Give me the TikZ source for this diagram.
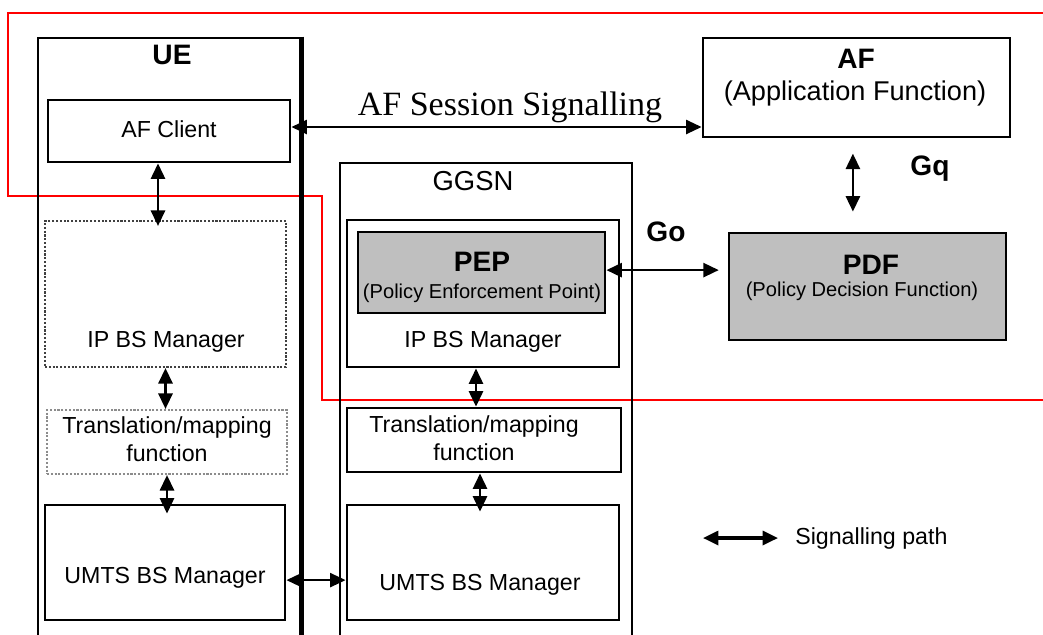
\documentclass[tikz,border=0pt]{standalone}
\usepackage{fontspec}
\setmainfont{Liberation Sans}
\newfontfamily\sigfont{Liberation Serif}
\usetikzlibrary{arrows.meta}

\begin{document}
\begin{tikzpicture}[x=0.025cm,y=-0.025cm,
  box/.style={draw,line width=2pt,inner sep=0pt},
  dotbox/.style={draw=black!75,line width=1.5pt,dash pattern=on 1.5pt off 1.2pt,inner sep=0pt},
  greybox/.style={box,fill=black!25},
  boxtext/.style={font=\fontsize{16.5}{20}\selectfont,align=center,inner sep=0pt},
  smalltext/.style={font=\fontsize{14.3}{17}\selectfont,inner sep=0pt},
  headtext/.style={font=\fontsize{20}{24}\selectfont\bfseries,inner sep=0pt},
  sigpath/.style={line width=1.8pt,{Triangle[length=11pt,width=10pt]}-{Triangle[length=11pt,width=10pt]}}]
\useasboundingbox (0,0) rectangle (1043,634);

% Red border
\draw[red,line width=1.8pt] (1043,13) -- (8,13) -- (8,196) -- (322,196) -- (322,400) -- (1043,400);

% UE
\node[box,minimum width=6.55cm,minimum height=15.3cm] (ue) at (169,344) {};
\draw[line width=3pt] (ue.north east) -- (ue.south east);
\node[headtext] (uelabel) at (172,55) {UE};
\node[box,minimum width=6.05cm,minimum height=1.55cm] (afclient) at (169,131) {};
\node[boxtext] (afclientlabel) at (169,129) {AF Client};
\node[dotbox,minimum width=6.025cm,minimum height=3.65cm] (ueip) at (165.5,294) {};
\node[boxtext] (ueiplabel) at (166,342) {IP BS Manager};
\node[dotbox,draw=black!45,minimum width=6cm,minimum height=1.6cm] (uetrans) at (167,442) {};
\node[boxtext] (uetranslabel) at (167,439) {Translation/mapping\\function};
\node[box,minimum width=6cm,minimum height=2.875cm] (ueumts) at (165,562.5) {};
\node[boxtext] (ueumtslabel) at (165,578) {UMTS BS Manager};

% GGSN
\node[box,minimum width=7.3cm,minimum height=12.175cm] (ggsn) at (486,406.5) {};
\node[font=\fontsize{19.5}{23}\selectfont,inner sep=0pt] (ggsnlabel) at (473,181) {GGSN};
\node[box,minimum width=6.8cm,minimum height=3.675cm] (ggip) at (483,293.5) {};
\node[boxtext] (ggiplabel) at (483,342) {IP BS Manager};
\node[greybox,minimum width=6.175cm,minimum height=2.025cm] (pep) at (481.5,272.5) {};
\node[headtext] (peplabel) at (482,262) {PEP};
\node[smalltext] (pepsub) at (482,293) {(Policy Enforcement Point)};
\node[box,minimum width=6.85cm,minimum height=1.6cm] (ggtrans) at (484,440) {};
\node[boxtext] (ggtranslabel) at (474,438) {Translation/mapping\\function};
\node[box,minimum width=6.8cm,minimum height=2.875cm] (ggumts) at (483,562.5) {};
\node[boxtext] (ggumtslabel) at (480,585) {UMTS BS Manager};

% AF and PDF
\node[box,minimum width=7.675cm,minimum height=2.475cm] (af) at (856.5,87.5) {};
\node[headtext] (aflabel) at (856,59) {AF};
\node[font=\fontsize{19.3}{23}\selectfont,inner sep=0pt] (afsub) at (855,93) {(Application Function)};
\node[greybox,minimum width=6.925cm,minimum height=2.675cm] (pdf) at (867.5,286.5) {};
\node[headtext] (pdflabel) at (871,265) {PDF};
\node[smalltext] (pdfsub) at (862,291) {(Policy Decision Function)};

% Signalling paths
\draw[sigpath,line width=1.5pt] (afclient.east) ++(0,-4) coordinate (sigstart) -- (sigstart -| af.west);
\node[font=\sigfont\fontsize{24.2}{28}\selectfont,inner sep=0pt] (siglabel) at (510,107) {AF Session Signalling};
\draw[sigpath,shorten <=0.38cm,shorten >=0.5cm] ([xshift=-0.09cm]af.south) -- ([xshift=-0.09cm]af.south |- pdf.north);
\node[headtext] (gqlabel) at (930,169) {Gq};
\draw[sigpath,shorten >=0.22cm] ([yshift=0.06cm]pep.east) -- ([yshift=0.06cm]pep.east -| pdf.west);
\node[headtext] (golabel) at (666,232) {Go};
\draw[sigpath,shorten >=-0.15cm] ([xshift=-0.275cm]afclient.south) -- ([xshift=-0.275cm]afclient.south |- ueip.north);
\draw[sigpath] (ueip.south) -- (ueip.south |- uetrans.north);
\draw[sigpath,shorten >=-0.25cm] (uetrans.south) -- (uetrans.south |- ueumts.north);
\draw[sigpath] ([xshift=-0.175cm]ggip.south) -- ([xshift=-0.175cm]ggip.south |- ggtrans.north);
\draw[sigpath,shorten >=-0.2cm] ([xshift=-0.1cm]ggtrans.south) -- ([xshift=-0.1cm]ggtrans.south |- ggumts.north);
\draw[sigpath,line width=1.5pt] ([yshift=-0.44cm]ueumts.east) -- ([yshift=-0.44cm]ueumts.east -| ggumts.west);

% Legend
\coordinate (legstart) at (703,538);
\coordinate (legend) at (778,538);
\draw[sigpath,line width=2.2pt] (legstart) -- (legend);
\node[boxtext,anchor=west] (leglabel) at (795,538) {Signalling path};
\end{tikzpicture}
\end{document}
